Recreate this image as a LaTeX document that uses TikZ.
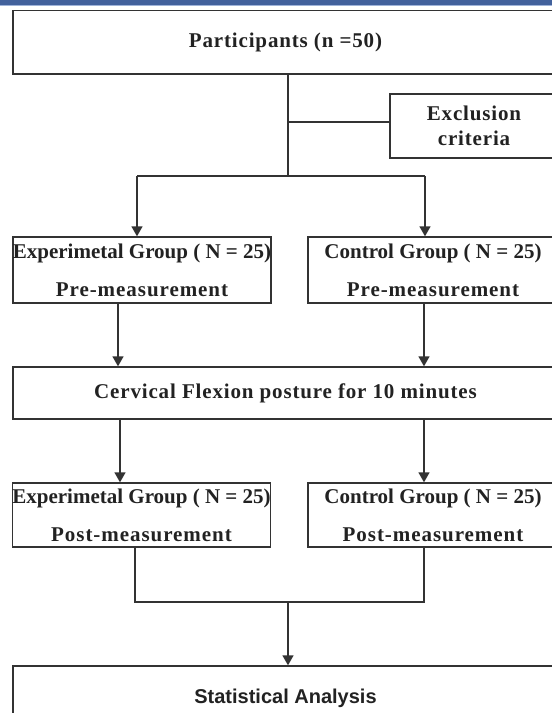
\documentclass[tikz,border=0pt]{standalone}
\usepackage{fontspec}
\setmainfont{Liberation Serif}
\setsansfont{Liberation Sans}
\usetikzlibrary{arrows.meta,calc}
\definecolor{linec}{HTML}{333333}
\definecolor{textc}{HTML}{222222}
\definecolor{barblue}{HTML}{42619C}
\definecolor{barlight}{HTML}{9FB3D9}
\newcommand{\spaced}{\addfontfeature{LetterSpace=4}}
\newcommand{\msr}{\addfontfeature{LetterSpace=4.5}}
\begin{document}
\begin{tikzpicture}[x=1pt,y=-1pt,
  box/.style={draw=linec, line width=1.4pt, rectangle, inner sep=0pt, align=center, text=textc,
    font=\fontsize{21}{38}\selectfont\bfseries},
  conn/.style={draw=linec, line width=1.4pt},
  arr/.style={conn, -{Triangle[width=11pt,length=10pt]}}]
\useasboundingbox (0,0) rectangle (552,713);
\clip (0,0) rectangle (552,713);
\fill[white] (0,0) rectangle (552,713);
\fill[barblue] (0,0) rectangle (552,4.5);
\fill[barlight] (0,4.5) rectangle (552,6);
% nodes
\node[box, minimum width=545pt, minimum height=63.5pt] (part) at (285.5,42.25) {\spaced Participants (n =50)};
\node[box, minimum width=168pt, minimum height=64pt, font=\fontsize{21}{25}\selectfont\bfseries] (excl) at (474,126) {\spaced Exclusion\\\spaced criteria};
\node[box, minimum width=258pt, minimum height=66pt] (preL) at (142,270) {Experimetal Group ( N = 25)\\{\msr Pre-measurement}};
\node[box, minimum width=250pt, minimum height=66pt] (preR) at (433,270) {Control Group ( N = 25)\\{\msr Pre-measurement}};
\node[box, minimum width=545pt, minimum height=52pt] (cerv) at (285.5,393) {\spaced Cervical Flexion posture for 10 minutes};
\node[box, minimum width=257pt, minimum height=64pt] (postL) at (141.5,515) {Experimetal Group ( N = 25)\\{\msr Post-measurement}};
\node[box, minimum width=250pt, minimum height=64pt] (postR) at (433,515) {Control Group ( N = 25)\\{\msr Post-measurement}};
\node[box, minimum width=545pt, minimum height=64pt, font=\fontsize{20}{24}\sffamily\bfseries] (stats) at (285.5,698) {Statistical Analysis};
% connectors
\coordinate (jn) at (288,176);
\coordinate (exj) at (288,122);
\coordinate (sl) at (137,176);
\coordinate (sr) at (425,176);
\draw[conn] (part.south -| jn) -- (jn);
\draw[conn] (exj) -- (exj -| excl.west);
\draw[conn] (sl) -- (sr);
\draw[arr] (sl) -- (sl |- preL.north);
\draw[arr] (sr) -- (sr |- preR.north);
\coordinate (a1) at (118,0);
\coordinate (a2) at (424,0);
\draw[arr] (preL.south -| a1) -- (cerv.north -| a1);
\draw[arr] (preR.south -| a2) -- (cerv.north -| a2);
\coordinate (b1) at (120,0);
\coordinate (b2) at (424,0);
\draw[arr] (cerv.south -| b1) -- (postL.north -| b1);
\draw[arr] (cerv.south -| b2) -- (postR.north -| b2);
\coordinate (jl) at (135,602);
\coordinate (jr) at (424,602);
\coordinate (jm) at (288,602);
\draw[conn] (postL.south -| jl) -- (jl) -- (jr) -- (postR.south -| jr);
\draw[arr] (jm) -- (stats.north -| jm);
\end{tikzpicture}
\end{document}
